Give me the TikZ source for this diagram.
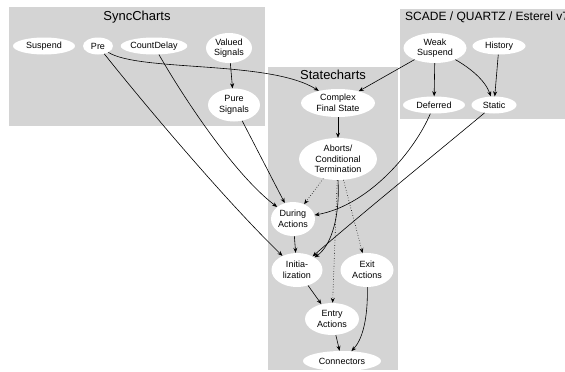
\documentclass[tikz,border=0pt]{standalone}
\usepackage{fontspec}
\setmainfont{Liberation Sans}
\usetikzlibrary{arrows.meta,shapes.geometric}

\definecolor{boxgray}{RGB}{212,212,212}

\begin{document}
\begin{tikzpicture}[x=1pt,y=-1pt,
    state/.style={ellipse, fill=white, inner sep=0pt, align=center,
        font=\fontsize{9}{10.5}\selectfont},
    title/.style={font=\fontsize{13}{14}\selectfont, inner sep=0pt},
    link/.style={-{Stealth[length=5pt,width=4pt]}, line width=0.6pt},
    weak/.style={link, dotted}]
    \useasboundingbox (0,0) rectangle (565,372);

    % Grey areas
    \fill[boxgray] (9,7) rectangle (265,126);
    \fill[boxgray] (268,67) rectangle (398,370);
    \fill[boxgray] (400,9) rectangle (565,119);

    % Titles
    \node[title] (synctitle) at (137,17) {SyncCharts};
    \node[title] (statetitle) at (333,75) {Statecharts};
    \node[title, font=\fontsize{12}{13}\selectfont, anchor=west] (scadetitle) at (405,17) {SCADE / QUARTZ / Esterel v7};

    % SyncCharts
    \node[state, minimum width=62, minimum height=17] (suspend) at (44,46) {Suspend};
    \node[state, minimum width=30, minimum height=17] (pre) at (98,46) {Pre};
    \node[state, minimum width=66, minimum height=17] (countdelay) at (154,46) {CountDelay};
    \node[state, minimum width=46, minimum height=30] (valued) at (229,48) {Valued\\Signals};
    \node[state, minimum width=52, minimum height=33] (pure) at (234,105) {Pure\\Signals};

    % SCADE
    \node[state, minimum width=63, minimum height=30] (weak) at (435,48) {Weak\\Suspend};
    \node[state, minimum width=53, minimum height=17] (history) at (499,46) {History};
    \node[state, minimum width=62, minimum height=17] (deferred) at (434,105) {Deferred};
    \node[state, minimum width=45, minimum height=17] (static) at (494,105) {Static};

    % Statecharts
    \node[state, minimum width=74, minimum height=28] (cfs) at (338,103) {Complex\\Final State};
    \node[state, minimum width=78, minimum height=42] (aborts) at (338,159) {Aborts/\\Conditional\\Termination};
    \node[state, minimum width=44, minimum height=34] (during) at (293,219) {During\\Actions};
    \node[state, minimum width=51, minimum height=34] (init) at (297,270) {Initia-\\lization};
    \node[state, minimum width=53, minimum height=34] (exitact) at (367,270) {Exit\\Actions};
    \node[state, minimum width=54, minimum height=32] (entry) at (332,319) {Entry\\Actions};
    \node[state, minimum width=78, minimum height=20] (connectors) at (342,361) {Connectors};

    % Links
    \draw[link] (valued) -- (pure);
    \draw[link] (pre) .. controls (140,72) and (270,60) .. (cfs);
    \draw[link] (pre) .. controls (145,105) and (225,200) .. (init);
    \draw[link] (countdelay) .. controls (185,100) and (235,175) .. (during);
    \draw[link] (pure) -- (during);
    \draw[link] (weak) -- (cfs);
    \draw[link] (weak) -- (deferred);
    \draw[link] (weak) .. controls (470,68) and (485,80) .. (static);
    \draw[link] (history) -- (static);
    \draw[link] (cfs) -- (aborts);
    \draw[link] (deferred) .. controls (415,150) and (370,205) .. (during);
    \draw[link] (static) .. controls (440,150) and (360,215) .. (init);
    \draw[link] (aborts.south) .. controls (340,215) and (332,245) .. (init);
    \draw[weak] (aborts) -- (during);
    \draw[weak] (aborts) -- (entry);
    \draw[weak] (aborts) -- (exitact);
    \draw[link] (during) -- (init);
    \draw[link] (init) -- (entry);
    \draw[link] (entry) -- (connectors);
    \draw[link] (exitact) .. controls (368,320) and (362,340) .. (connectors);
\end{tikzpicture}
\end{document}
